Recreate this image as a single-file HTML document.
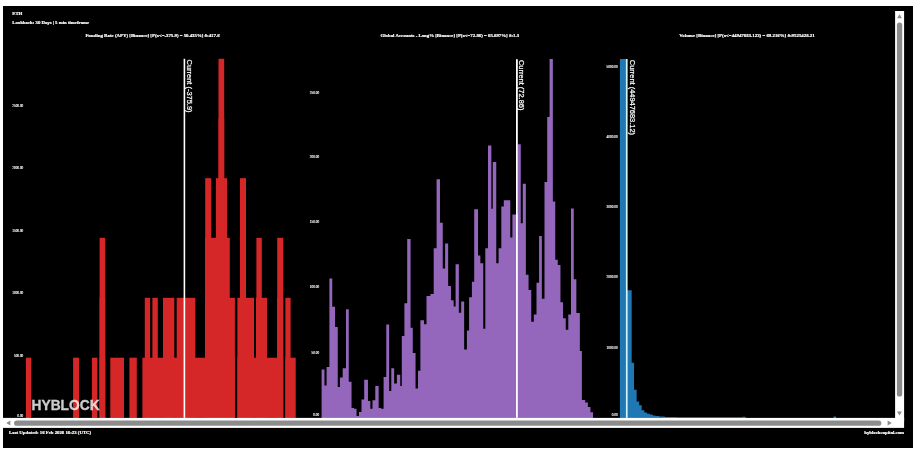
<!DOCTYPE html>
<html><head><meta charset="utf-8"><title>ETH distributions</title>
<style>
html,body{margin:0;padding:0;background:#fff;width:918px;height:452px;overflow:hidden;font-family:"Liberation Sans",sans-serif;}
#bg{position:absolute;left:3px;top:6px;width:910px;height:441.8px;background:#000;}
svg{position:absolute;left:0;top:0;will-change:transform;}
</style></head><body>
<div id="bg"></div>
<svg width="918" height="452" viewBox="0 0 918 452" shape-rendering="auto">
<g fill="#d62728"><rect x="25.9" y="357.7" width="5.30" height="60.2"/><rect x="73.1" y="357.7" width="5.90" height="60.2"/><rect x="91.9" y="357.7" width="5.50" height="60.2"/><rect x="99.6" y="357.7" width="5.60" height="60.2"/><rect x="110.3" y="357.7" width="13.70" height="60.2"/><rect x="129.4" y="357.7" width="7.40" height="60.2"/><rect x="142.4" y="357.7" width="92.50" height="60.2"/><rect x="237.4" y="357.7" width="45.80" height="60.2"/><rect x="285.4" y="357.7" width="10.30" height="60.2"/><rect x="99.6" y="297.8" width="5.60" height="120.1"/><rect x="144.8" y="297.8" width="5.30" height="120.1"/><rect x="152.4" y="297.8" width="5.40" height="120.1"/><rect x="163.0" y="297.8" width="11.30" height="120.1"/><rect x="176.7" y="297.8" width="18.60" height="120.1"/><rect x="205.2" y="297.8" width="29.70" height="120.1"/><rect x="237.4" y="297.8" width="16.60" height="120.1"/><rect x="256.0" y="297.8" width="11.00" height="120.1"/><rect x="277.2" y="297.8" width="6.00" height="120.1"/><rect x="285.4" y="297.8" width="5.20" height="120.1"/><rect x="99.6" y="237.8" width="5.60" height="180.1"/><rect x="205.2" y="237.8" width="24.60" height="180.1"/><rect x="240.0" y="237.8" width="6.00" height="180.1"/><rect x="256.4" y="237.8" width="5.40" height="180.1"/><rect x="277.2" y="237.8" width="6.00" height="180.1"/><rect x="205.2" y="178.2" width="6.00" height="239.7"/><rect x="215.9" y="178.2" width="11.20" height="239.7"/><rect x="240.0" y="178.2" width="6.00" height="239.7"/><rect x="218.5" y="118.4" width="5.70" height="299.5"/><rect x="218.5" y="58.8" width="5.70" height="359.1"/></g>
<path fill="#9467bd" d="M321.6 417.9V369.4H324.45V417.9ZM324.4 417.9V385.4H326.65V417.9ZM326.6 417.9V367.0H329.45V417.9ZM329.4 417.9V278.4H332.25V417.9ZM332.2 417.9V306.7H335.05V417.9ZM335.0 417.9V327.0H337.75V417.9ZM337.7 417.9V387.0H339.95V417.9ZM339.9 417.9V377.5H342.75V417.9ZM342.7 417.9V368.3H346.05V417.9ZM346.0 417.9V309.3H348.75V417.9ZM348.7 417.9V381.8H351.55V417.9ZM351.5 417.9V408.0H354.05V417.9ZM354.0 417.9V408.8H356.55V417.9ZM356.5 417.9V415.9H359.05V417.9ZM359.0 417.9V412.0H361.55V417.9ZM361.5 417.9V399.5H364.25V417.9ZM364.2 417.9V379.7H367.95V417.9ZM367.9 417.9V401.0H370.35V417.9ZM370.3 417.9V408.7H372.55V417.9ZM372.5 417.9V400.2H375.35V417.9ZM375.3 417.9V386.0H378.65V417.9ZM378.6 417.9V408.0H381.15V417.9ZM381.1 417.9V408.8H383.65V417.9ZM383.6 417.9V377.0H386.35V417.9ZM386.3 417.9V324.4H389.15V417.9ZM389.1 417.9V391.0H391.35V417.9ZM391.3 417.9V368.2H394.15V417.9ZM394.1 417.9V383.5H396.95V417.9ZM396.9 417.9V374.7H400.25V417.9ZM400.2 417.9V386.0H401.85V417.9ZM401.8 417.9V336.0H404.45V417.9ZM404.4 417.9V303.2H407.25V417.9ZM407.2 417.9V239.0H410.55V417.9ZM410.5 417.9V327.8H412.75V417.9ZM412.7 417.9V353.0H415.55V417.9ZM415.5 417.9V388.4H418.05V417.9ZM418.0 417.9V370.7H420.45V417.9ZM420.4 417.9V320.3H424.05V417.9ZM424.0 417.9V324.3H426.55V417.9ZM426.5 417.9V296.0H430.45V417.9ZM430.4 417.9V294.0H433.75V417.9ZM433.7 417.9V248.3H436.65V417.9ZM436.6 417.9V179.3H439.95V417.9ZM439.9 417.9V222.8H442.75V417.9ZM442.7 417.9V268.4H445.15V417.9ZM445.1 417.9V243.4H448.15V417.9ZM448.1 417.9V286.0H450.95V417.9ZM450.9 417.9V300.2H453.65V417.9ZM453.6 417.9V306.6H455.65V417.9ZM455.6 417.9V264.3H458.85V417.9ZM458.8 417.9V312.8H461.25V417.9ZM461.2 417.9V301.5H464.15V417.9ZM464.1 417.9V349.5H466.95V417.9ZM466.9 417.9V330.5H469.15V417.9ZM469.1 417.9V297.3H471.95V417.9ZM471.9 417.9V281.7H474.25V417.9ZM474.2 417.9V209.3H478.05V417.9ZM478.0 417.9V255.5H480.35V417.9ZM480.3 417.9V263.2H483.25V417.9ZM483.2 417.9V328.7H485.35V417.9ZM485.3 417.9V248.2H488.05V417.9ZM488.0 417.9V145.5H491.35V417.9ZM491.3 417.9V208.7H492.85V417.9ZM492.8 417.9V162.1H496.25V417.9ZM496.2 417.9V263.2H498.65V417.9ZM498.6 417.9V248.3H501.35V417.9ZM501.3 417.9V206.6H503.85V417.9ZM503.8 417.9V200.2H510.25V417.9ZM510.2 417.9V237.5H512.45V417.9ZM512.4 417.9V214.4H517.85V417.9ZM517.8 417.9V144.3H520.75V417.9ZM520.7 417.9V223.3H522.85V417.9ZM522.8 417.9V183.7H525.85V417.9ZM525.8 417.9V274.8H528.55V417.9ZM528.5 417.9V289.9H531.25V417.9ZM531.2 417.9V321.7H533.85V417.9ZM533.8 417.9V314.6H536.55V417.9ZM536.5 417.9V282.8H539.15V417.9ZM539.1 417.9V236.0H541.85V417.9ZM541.8 417.9V298.7H544.55V417.9ZM544.5 417.9V181.9H547.25V417.9ZM547.2 417.9V117.0H549.65V417.9ZM549.6 417.9V58.9H552.85V417.9ZM552.8 417.9V201.4H555.25V417.9ZM555.2 417.9V259.8H557.75V417.9ZM557.7 417.9V265.0H560.45V417.9ZM560.4 417.9V302.2H563.05V417.9ZM563.0 417.9V318.2H565.75V417.9ZM565.7 417.9V329.7H568.35V417.9ZM568.3 417.9V314.6H571.05V417.9ZM571.0 417.9V208.4H573.75V417.9ZM573.7 417.9V279.2H576.35V417.9ZM576.3 417.9V312.9H579.85V417.9ZM579.8 417.9V351.0H581.85V417.9ZM581.8 417.9V400.0H585.15V417.9ZM585.1 417.9V402.6H587.85V417.9ZM587.8 417.9V407.0H590.45V417.9ZM590.4 417.9V412.3H593.05V417.9Z"/>
<path fill="#1f77b4" d="M619.9 417.9V59.0H626.35V417.9ZM626.3 417.9V290.2H631.65V417.9ZM631.6 417.9V362.8H634.05V417.9ZM634.0 417.9V389.7H636.65V417.9ZM636.6 417.9V401.6H639.15V417.9ZM639.1 417.9V405.2H641.65V417.9ZM641.6 417.9V410.2H644.35V417.9ZM644.3 417.9V412.4H647.15V417.9ZM647.1 417.9V413.8H649.85V417.9ZM649.8 417.9V414.6H652.65V417.9ZM652.6 417.9V415.4H655.45V417.9ZM655.4 417.9V416.0H659.25V417.9ZM659.2 417.9V416.5H664.85V417.9ZM664.8 417.9V416.9H677.05V417.9ZM677.0 417.9V417.2H746.05V417.9ZM742.5 417.9V416.8H745.05V417.9ZM833.5 417.9V416.6H836.05V417.9Z"/>
<g fill="#fff"><rect x="183.6" y="58.8" width="1.6" height="359.1"/><rect x="516.0" y="59.2" width="1.8" height="358.7"/><rect x="625.9" y="59.0" width="1.7" height="358.9" fill="#d2f5fc"/></g>
<g fill="#fff" font-family="Liberation Sans, sans-serif" font-size="7.45" stroke="#fff" stroke-width="0.22"><text transform="translate(186.8,59.6) rotate(90)">Current (-375.9)</text><text transform="translate(519.1,60.0) rotate(90)">Current (72.86)</text><text transform="translate(629.5,59.8) rotate(90)">Current (44947683.12)</text></g>
<g fill="#fff" font-family="Liberation Serif, serif" font-size="3.4" stroke="#fff" stroke-width="0.12"><text x="23.3" y="107.0" text-anchor="end">2500.00</text><text x="23.3" y="169.2" text-anchor="end">2000.00</text><text x="23.3" y="231.8" text-anchor="end">1500.00</text><text x="23.3" y="294.0" text-anchor="end">1000.00</text><text x="23.3" y="356.5" text-anchor="end">500.00</text><text x="23.3" y="416.6" text-anchor="end">0.00</text></g>
<g fill="#fff" font-family="Liberation Serif, serif" font-size="3.4" stroke="#fff" stroke-width="0.12"><text x="319.2" y="93.7" text-anchor="end">250.00</text><text x="319.2" y="158.4" text-anchor="end">200.00</text><text x="319.2" y="223.1" text-anchor="end">150.00</text><text x="319.2" y="287.9" text-anchor="end">100.00</text><text x="319.2" y="353.7" text-anchor="end">50.00</text><text x="319.2" y="416.1" text-anchor="end">0.00</text></g>
<g fill="#fff" font-family="Liberation Serif, serif" font-size="3.4" stroke="#fff" stroke-width="0.12"><text x="617.6" y="67.7" text-anchor="end">5000.00</text><text x="617.6" y="138.0" text-anchor="end">4000.00</text><text x="617.6" y="207.5" text-anchor="end">3000.00</text><text x="617.6" y="278.1" text-anchor="end">2000.00</text><text x="617.6" y="348.8" text-anchor="end">1000.00</text><text x="617.6" y="416.4" text-anchor="end">0.00</text></g>
<g fill="#fff" font-family="Liberation Serif, serif" font-weight="bold" font-size="4.84" text-anchor="middle" stroke="#fff" stroke-width="0.2"><text x="152.5" y="37.2">Funding Rate (APY) [Binance] [P(x&lt;=-375.9) = 50.435%] δ:417.6</text><text x="449.8" y="37.2">Global Accounts - Long% [Binance] [P(x&lt;=72.86) = 65.897%] δ:1.3</text><text x="747.0" y="37.2" font-size="4.87">Volume [Binance] [P(x&lt;=44947683.123) = 69.216%] δ:9525428.21</text></g>
<g fill="#fff" font-family="Liberation Serif, serif" font-weight="bold" font-size="4.8" stroke="#fff" stroke-width="0.2"><text x="12.2" y="14.8">ETH</text><text x="12.2" y="23.7">Lookback: 30 Days | 5 min timeframe</text><text x="9.1" y="434.0">Last Updated: 16 Feb 2026 16:23 (UTC)</text><text x="904.1" y="434.3" text-anchor="end">hyblockcapital.com</text></g>
<text x="31.6" y="409.7" fill="#fff" stroke="#fff" stroke-width="0.3" opacity="0.8" font-family="Liberation Sans, sans-serif" font-weight="bold" font-size="13.75">HYBLOCK</text>
<g><rect x="3" y="417.9" width="901.1" height="10.0" fill="#fff"/><rect x="895.1" y="11" width="9" height="410" fill="#fff"/><rect x="14.1" y="420.5" width="867.2" height="5.3" rx="2.6" fill="#8c8c8c"/><rect x="896.9" y="22.6" width="5.3" height="374.0" rx="2.6" fill="#8c8c8c"/><path fill="#8c8c8c" d="M6.2 423.1L10.4 420.6V425.6Z"/><path fill="#8c8c8c" d="M891.8 423.1L887.6 420.6V425.6Z"/><path fill="#8c8c8c" d="M899.5 14.2L897.1 18.2H901.9Z"/><path fill="#8c8c8c" d="M899.5 415.6L897.1 411.6H901.9Z"/></g>
</svg>
</body></html>
